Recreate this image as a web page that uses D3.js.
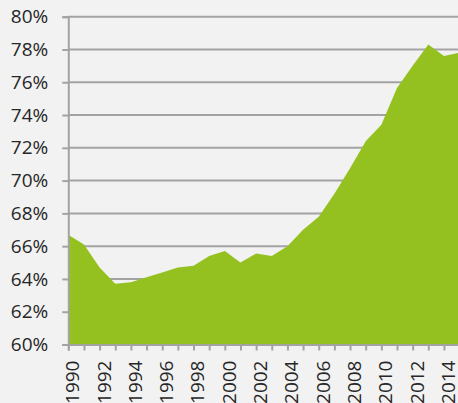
<!DOCTYPE html>
<html>
<head>
<meta charset="utf-8">
<script src="https://d3js.org/d3.v7.min.js"></script>
<style>
  body { margin: 0; background: #f2f2f2; }
  text { font-family: "Open Sans", sans-serif; fill: #262626; }
</style>
</head>
<body>
<div id="chart"></div>
<script>
// data
var years = [1990, 1991, 1992, 1993, 1994, 1995, 1996, 1997, 1998, 1999, 2000, 2001, 2002,
             2003, 2004, 2005, 2006, 2007, 2008, 2009, 2010, 2011, 2012, 2013, 2014, 2015];
var shares = [66.7, 66.1, 64.7, 63.7, 63.8, 64.1, 64.4, 64.7, 64.8, 65.4, 65.7, 65.0, 65.55,
              65.4, 66.0, 67.0, 67.8, 69.2, 70.75, 72.4, 73.4, 75.65, 77.0, 78.3, 77.6, 77.8];
var yTicks = [60, 62, 64, 66, 68, 70, 72, 74, 76, 78, 80];
var labelYears = [1990, 1992, 1994, 1996, 1998, 2000, 2002, 2004, 2006, 2008, 2010, 2012, 2014];

var width = 458, height = 403;
var plotLeft = 68.3, plotTop = 16.7, plotBottom = 344.5;

var svg = d3.select("#chart").append("svg")
    .attr("width", width)
    .attr("height", height);

svg.append("rect").attr("width", width).attr("height", height).attr("fill", "#f2f2f2");

var x = d3.scaleLinear().domain([1990, 2015]).range([plotLeft, 459.6]);
var y = d3.scaleLinear().domain([60, 80]).range([plotBottom, plotTop]);

// gridlines
svg.append("g")
  .selectAll("line")
  .data(yTicks.slice(1))
  .enter().append("line")
    .attr("x1", plotLeft).attr("x2", width)
    .attr("y1", function(d) { return y(d); })
    .attr("y2", function(d) { return y(d); })
    .attr("stroke", "#a3a3a3")
    .attr("stroke-width", 2);

// area
var area = d3.area()
    .x(function(d, i) { return x(years[i]); })
    .y0(y(60))
    .y1(function(d) { return y(d); });

svg.append("path")
    .datum(shares)
    .attr("d", area)
    .attr("fill", "#94c120");

// y axis
var yAxis = svg.append("g")
    .attr("transform", "translate(" + plotLeft + ",0)")
    .call(d3.axisLeft(y).tickValues(yTicks).tickSize(6).tickPadding(14)
      .tickFormat(function(d) { return d + "%"; }));
yAxis.select(".domain").attr("stroke", "#a3a3a3").attr("stroke-width", 2);
yAxis.selectAll(".tick line").attr("stroke", "#a3a3a3").attr("stroke-width", 2);
yAxis.selectAll("text").style("font-size", "19px").attr("fill", "#262626");

// x axis: tick each year, label every second year
var xAxis = svg.append("g")
    .attr("transform", "translate(0," + plotBottom + ")")
    .call(d3.axisBottom(x).tickValues(years.slice(0, 25)).tickSize(6)
      .tickFormat(function(d) { return labelYears.indexOf(d) >= 0 ? d : ""; }));
xAxis.select(".domain").attr("stroke", "#a3a3a3").attr("stroke-width", 2);
xAxis.selectAll(".tick line").attr("stroke", "#a3a3a3").attr("stroke-width", 2);
xAxis.selectAll("text")
    .style("font-size", "19px")
    .attr("fill", "#262626")
    .attr("transform", "rotate(-90)")
    .attr("text-anchor", "end")
    .attr("x", -16)
    .attr("y", 0)
    .attr("dy", "0.55em");
</script>
</body>
</html>
